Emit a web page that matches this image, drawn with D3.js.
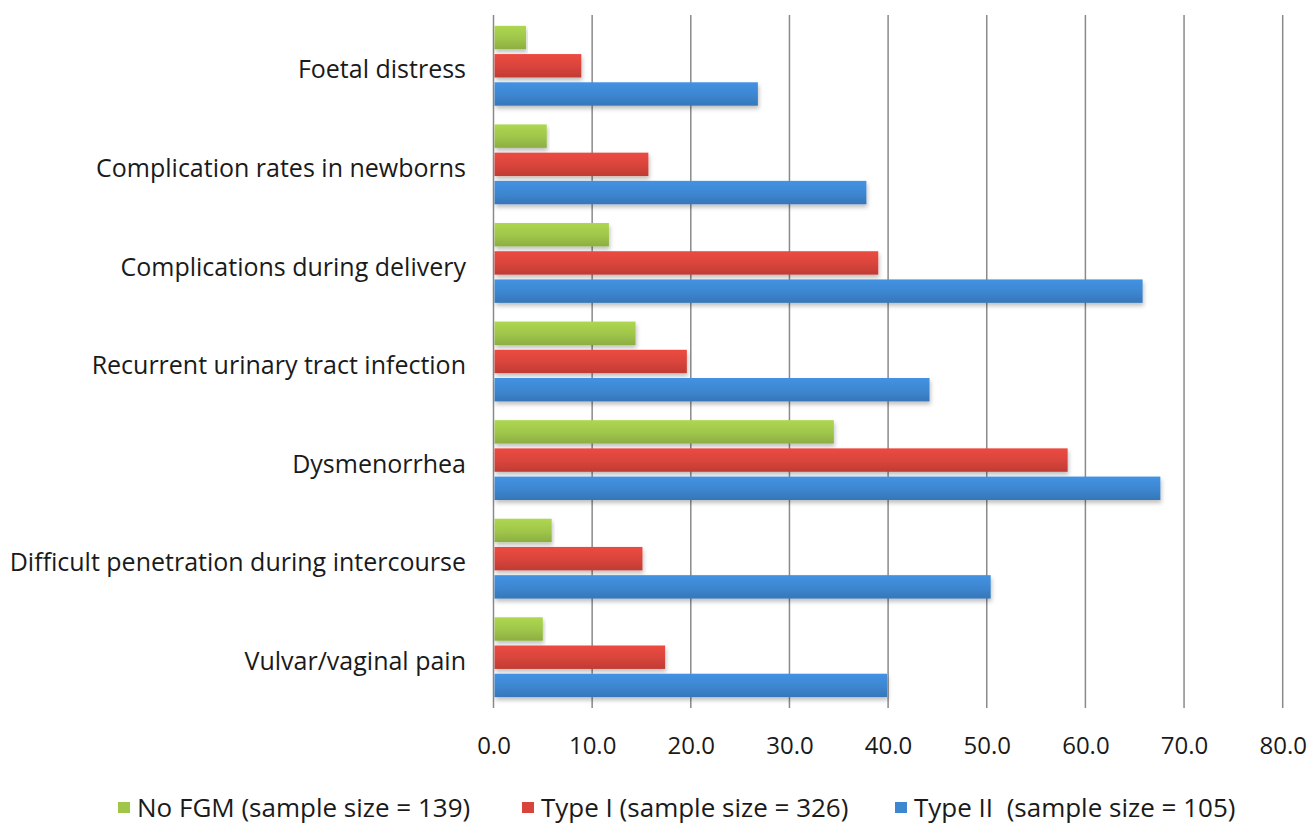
<!DOCTYPE html>
<html>
<head>
<meta charset="utf-8">
<script src="https://cdn.jsdelivr.net/npm/d3@7"></script>
<style>
  html, body { margin: 0; padding: 0; background: #fff; }
  svg { display: block; }
  text { font-family: "Open Sans", Lato, sans-serif; fill: #1a1a1a; }
</style>
</head>
<body>
<svg id="chart" width="1310" height="825"></svg>
<script>
const categories = [
  "Foetal distress",
  "Complication rates in newborns",
  "Complications during delivery",
  "Recurrent urinary tract infection",
  "Dysmenorrhea",
  "Difficult penetration during intercourse",
  "Vulvar/vaginal pain"
];
const seriesNames = [
  "No FGM (sample size = 139)",
  "Type I (sample size = 326)",
  "Type II  (sample size = 105)"
];
const noFGM  = [3.3, 5.4, 11.7, 14.4, 34.5, 5.9, 5.0];
const typeI  = [8.9, 15.7, 39.0, 19.6, 58.2, 15.1, 17.4];
const typeII = [26.8, 37.8, 65.8, 44.2, 67.6, 50.4, 39.9];
const xTicks = [0, 10, 20, 30, 40, 50, 60, 70, 80];
const colors = ["#9fc54a", "#d8443b", "#3d86d0"];

const seriesValues = [noFGM, typeI, typeII];
const svg = d3.select("#chart");

const defs = svg.append("defs");
colors.forEach((c, i) => {
  const g = defs.append("linearGradient").attr("id", "grad" + i)
    .attr("x1", 0).attr("y1", 0).attr("x2", 0).attr("y2", 1);
  g.append("stop").attr("offset", "0%").attr("stop-color", d3.color(c).brighter(0.25));
  g.append("stop").attr("offset", "55%").attr("stop-color", c);
  g.append("stop").attr("offset", "100%").attr("stop-color", d3.color(c).darker(0.35));
});
const f = defs.append("filter").attr("id", "shadow")
  .attr("x", "-5%").attr("y", "-20%").attr("width", "110%").attr("height", "160%");
f.append("feDropShadow").attr("dx", 1).attr("dy", 3).attr("stdDeviation", 2)
  .attr("flood-color", "#000").attr("flood-opacity", 0.25);

const x = d3.scaleLinear().domain([0, 80]).range([493.5, 1282.7]);
const y = d3.scaleBand().domain(categories).range([16, 707]).paddingInner(0.19).paddingOuter(0.1);
const ySub = d3.scaleBand().domain(d3.range(3)).range([0, y.bandwidth()]).paddingInner(0.17);

// grid lines + tick marks
svg.append("g").selectAll("line").data(xTicks).join("line")
  .attr("x1", d => x(d)).attr("x2", d => x(d))
  .attr("y1", 15).attr("y2", 708)
  .attr("stroke", "#8a8a8a").attr("stroke-width", 1.5);

// bars
const groups = svg.append("g").selectAll("g").data(categories).join("g")
  .attr("transform", c => `translate(0,${y(c)})`);
groups.each(function(c, ci) {
  d3.select(this).selectAll("rect").data(seriesValues.map((s, si) => ({ si, v: s[ci] })))
    .join("rect")
    .attr("x", x(0) + 1)
    .attr("y", d => ySub(d.si))
    .attr("width", d => x(d.v) - x(0) - 1)
    .attr("height", ySub.bandwidth())
    .attr("fill", d => `url(#grad${d.si})`)
    .attr("filter", "url(#shadow)");
});

// category labels
svg.append("g").selectAll("text").data(categories).join("text")
  .attr("x", 466)
  .attr("y", c => y(c) + y.bandwidth() / 2 + 6)
  .attr("text-anchor", "end")
  .attr("dominant-baseline", "middle")
  .style("font-size", "25px")
  .text(c => c);

// x tick labels
const xAxis = d3.axisBottom(x).tickValues(xTicks).tickFormat(d3.format(".1f")).tickSize(0);
const ax = svg.append("g").attr("transform", "translate(0,734)").call(xAxis);
ax.select(".domain").remove();
ax.selectAll("text").style("font-size", "24px").style("font-family", "'Open Sans', Lato, sans-serif").attr("fill", "#1a1a1a");

// legend
const legendX = [118, 522, 895];
const lg = svg.append("g").selectAll("g").data(seriesNames).join("g")
  .attr("transform", (d, i) => `translate(${legendX[i]},0)`);
lg.append("rect").attr("x", 0).attr("y", 802).attr("width", 12).attr("height", 11)
  .attr("fill", (d, i) => colors[i]);
lg.append("text").attr("x", 19).attr("y", 817)
  .style("font-size", "26px").style("white-space", "pre").attr("xml:space", "preserve")
  .text(d => d);
</script>
</body>
</html>
